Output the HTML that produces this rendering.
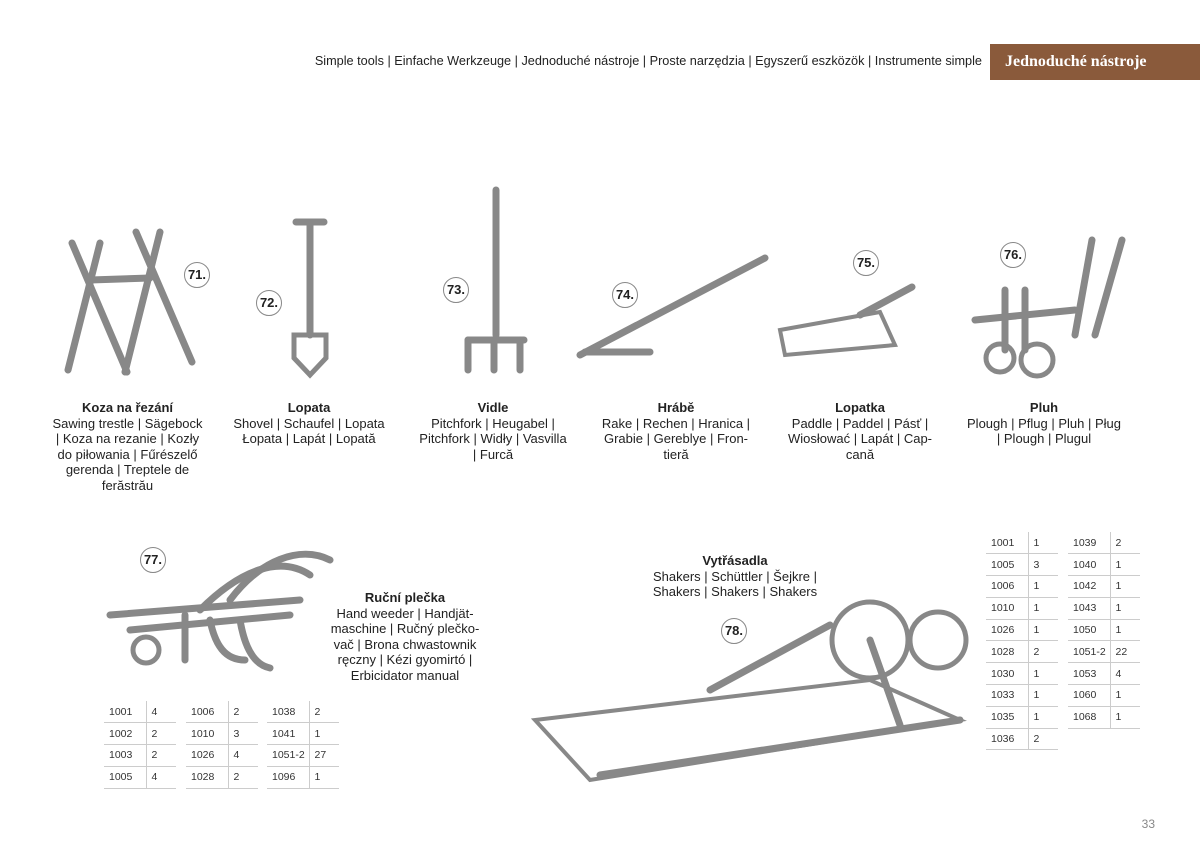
<!DOCTYPE html>
<html><head><meta charset="utf-8"><style>
body{margin:0;width:1200px;height:849px;background:#fff;position:relative;font-family:"Liberation Sans","Noto Sans CJK SC",sans-serif;color:#222;overflow:hidden}
.a{position:absolute}
.hdr{right:218px;top:54px;font-size:12.7px;white-space:nowrap}
.tab{left:990px;top:44px;width:210px;height:36px;background:#8a5a3b;color:#fff;font-family:"Liberation Serif",serif;font-weight:bold;font-size:16px;line-height:36px;padding-left:15px;box-sizing:border-box}
.lbl{font-size:13px;line-height:15.5px;text-align:center}
.lbl b{display:block}
.num{width:24px;height:24px;border:1.5px solid #888;border-radius:50%;font-size:13px;font-weight:bold;text-align:center;line-height:24px;background:#fff}
table{position:absolute;border-collapse:collapse;font-size:10.5px;color:#333}
td{height:21.8px;padding:0 0 0 5px;border-bottom:1px solid #ccc;box-sizing:border-box}
td:first-child{width:42px;border-right:1px solid #ccc}
td:last-child{width:30px}
.pg{right:45px;top:817px;font-size:12px;color:#888}
</style></head><body>
<div class="a hdr">Simple tools | Einfache Werkzeuge | Jednoduché nástroje | Proste narzędzia | Egyszerű eszközök | Instrumente simple</div>
<div class="a tab">Jednoduché nástroje</div>

<svg class="a" style="left:0;top:0" width="1200" height="849" fill="none" stroke="#555" stroke-linecap="round">
<g stroke-width="7" stroke="#888">
<line x1="72" y1="243" x2="127" y2="372"/><line x1="100" y1="243" x2="68" y2="370"/>
<line x1="136" y1="232" x2="192" y2="362"/><line x1="160" y1="232" x2="125" y2="372"/>
<line x1="90" y1="280" x2="150" y2="278"/>
<line x1="310" y1="225" x2="310" y2="335"/><line x1="296" y1="222" x2="324" y2="222"/>
<path d="M294 335 L326 335 L326 358 L310 375 L294 358Z" stroke-width="5"/>
<line x1="496" y1="190" x2="496" y2="335"/><line x1="468" y1="340" x2="524" y2="340"/>
<line x1="468" y1="340" x2="468" y2="370"/><line x1="494" y1="340" x2="494" y2="370"/><line x1="520" y1="340" x2="520" y2="370"/>
<line x1="580" y1="355" x2="765" y2="258"/><line x1="585" y1="352" x2="650" y2="352"/>
<path d="M780 330 L880 312 L895 345 L785 355Z" stroke-width="4"/><line x1="860" y1="315" x2="912" y2="287"/>
<line x1="1005" y1="290" x2="1005" y2="350"/><line x1="1025" y1="290" x2="1025" y2="350"/>
<line x1="1075" y1="335" x2="1092" y2="240"/><line x1="1095" y1="335" x2="1122" y2="240"/>
<line x1="975" y1="320" x2="1075" y2="310"/>
<circle cx="1000" cy="358" r="14" stroke-width="5"/><circle cx="1037" cy="360" r="16" stroke-width="5"/>
<line x1="110" y1="615" x2="300" y2="600"/><line x1="130" y1="630" x2="290" y2="615"/>
<path d="M230 600 C260 560 300 545 330 560" /><path d="M200 610 C240 570 280 555 310 575"/>
<line x1="185" y1="615" x2="185" y2="660"/><path d="M210 620 C215 645 225 660 245 660"/><path d="M240 620 C245 650 255 665 270 668"/>
<circle cx="146" cy="650" r="13" stroke-width="5"/>
<path d="M535 720 L590 780 L960 720 L870 680 Z" stroke-width="4"/>
<line x1="710" y1="690" x2="830" y2="625"/>
<circle cx="870" cy="640" r="38" stroke-width="5"/><circle cx="938" cy="640" r="28" stroke-width="5"/>
<line x1="870" y1="640" x2="900" y2="725"/><line x1="600" y1="775" x2="960" y2="720"/>
</g>
</svg>

<div class="a num" style="left:184px;top:262px">71.</div>
<div class="a num" style="left:256px;top:290px">72.</div>
<div class="a num" style="left:443px;top:277px">73.</div>
<div class="a num" style="left:612px;top:282px">74.</div>
<div class="a num" style="left:853px;top:250px">75.</div>
<div class="a num" style="left:1000px;top:242px">76.</div>
<div class="a num" style="left:140px;top:547px">77.</div>
<div class="a num" style="left:721px;top:618px">78.</div>

<div class="a lbl" style="left:50px;top:400px;width:155px"><b>Koza na řezání</b>Sawing trestle | Sägebock | Koza na rezanie | Kozły do piłowania | Fűrészelő gerenda | Treptele de ferăstrău</div>
<div class="a lbl" style="left:233px;top:400px;width:152px"><b>Lopata</b>Shovel | Schaufel | Lopata Łopata | Lapát | Lopată</div>
<div class="a lbl" style="left:418px;top:400px;width:150px"><b>Vidle</b>Pitchfork | Heugabel | Pitchfork | Widły | Vasvilla | Furcă</div>
<div class="a lbl" style="left:600px;top:400px;width:152px"><b>Hrábě</b>Rake | Rechen | Hranica | Grabie | Gereblye | Fron-tieră</div>
<div class="a lbl" style="left:785px;top:400px;width:150px"><b>Lopatka</b>Paddle | Paddel | Pásť | Wiosłować | Lapát | Cap-cană</div>
<div class="a lbl" style="left:966px;top:400px;width:156px"><b>Pluh</b>Plough | Pflug | Pluh | Pług | Plough | Plugul</div>
<div class="a lbl" style="left:330px;top:590px;width:150px"><b>Ruční plečka</b>Hand weeder | Handjät-maschine | Ručný plečko-vač | Brona chwastownik ręczny | Kézi gyomirtó | Erbicidator manual</div>
<div class="a lbl" style="left:650px;top:553px;width:170px"><b>Vytřásadla</b>Shakers | Schüttler | Šejkre | Shakers | Shakers | Shakers</div>

<table style="left:104px;top:701px"><tr><td>1001</td><td>4</td></tr><tr><td>1002</td><td>2</td></tr><tr><td>1003</td><td>2</td></tr><tr><td>1005</td><td>4</td></tr></table>
<table style="left:186px;top:701px"><tr><td>1006</td><td>2</td></tr><tr><td>1010</td><td>3</td></tr><tr><td>1026</td><td>4</td></tr><tr><td>1028</td><td>2</td></tr></table>
<table style="left:267px;top:701px"><tr><td>1038</td><td>2</td></tr><tr><td>1041</td><td>1</td></tr><tr><td>1051-2</td><td>27</td></tr><tr><td>1096</td><td>1</td></tr></table>
<table style="left:986px;top:532px"><tr><td>1001</td><td>1</td></tr><tr><td>1005</td><td>3</td></tr><tr><td>1006</td><td>1</td></tr><tr><td>1010</td><td>1</td></tr><tr><td>1026</td><td>1</td></tr><tr><td>1028</td><td>2</td></tr><tr><td>1030</td><td>1</td></tr><tr><td>1033</td><td>1</td></tr><tr><td>1035</td><td>1</td></tr><tr><td>1036</td><td>2</td></tr></table>
<table style="left:1068px;top:532px"><tr><td>1039</td><td>2</td></tr><tr><td>1040</td><td>1</td></tr><tr><td>1042</td><td>1</td></tr><tr><td>1043</td><td>1</td></tr><tr><td>1050</td><td>1</td></tr><tr><td>1051-2</td><td>22</td></tr><tr><td>1053</td><td>4</td></tr><tr><td>1060</td><td>1</td></tr><tr><td>1068</td><td>1</td></tr></table>
<div class="a pg">33</div>
</body></html>
